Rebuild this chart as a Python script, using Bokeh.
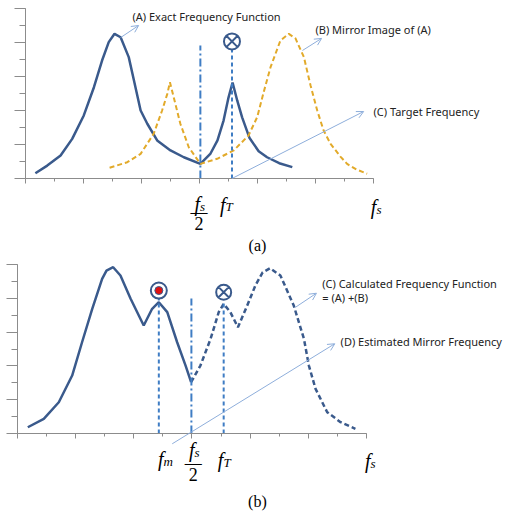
from bokeh.plotting import figure
from bokeh.layouts import column
from bokeh.models import Label, Arrow, OpenHead, LinearAxis, FixedTicker
from bokeh.embed import file_html
from bokeh.resources import INLINE

NAVY = "#3A5A8C"
GOLD = "#E2AA2A"
VBLUE = "#3F7DC4"
ARROWC = "#8EAEDB"
AXISC = "#8C8C8C"
TXT = "#222222"

# axis ticks (no numeric labels in the original)
x_ticks_long = [0, 2, 4, 6, 8, 10, 12]
x_ticks_short = [1, 3, 5, 7, 9, 11]
y_ticks_long = [0, 2, 4, 6, 8, 10]
y_ticks_short = [1, 3, 5, 7, 9]

# ---------------- panel (a) data ----------------
a_exact_x = [0.34, 0.75, 1.21, 1.61, 2.01, 2.36, 2.64, 2.87, 3.07, 3.28, 3.56, 3.74, 3.97, 4.2, 4.54,
             5.0, 5.46, 6.03, 6.38, 6.62, 6.83, 7.0, 7.14, 7.3, 7.47, 7.72, 8.04, 8.33, 8.75, 9.2]
a_exact_y = [0.31, 0.76, 1.35, 2.33, 3.71, 5.37, 6.94, 8.02, 8.51, 8.31, 7.14, 5.76, 4.0, 3.22, 2.24,
             1.65, 1.25, 0.86, 1.47, 2.24, 3.41, 4.76, 5.65, 4.59, 3.6, 2.4, 1.6, 1.25, 0.9, 0.67]
a_mirror_x = [2.9, 3.51, 3.97, 4.42, 4.71, 4.89, 4.98, 5.11, 5.34, 5.63, 6.03, 6.61, 7.18, 7.69, 7.99,
              8.21, 8.45, 8.79, 9.08, 9.31, 9.6, 9.83, 10.06, 10.28, 10.52, 10.86, 11.09, 11.41, 11.78]
a_mirror_y = [0.63, 0.96, 1.45, 2.63, 4.0, 4.98, 5.66, 4.78, 3.22, 1.84, 0.86, 1.16, 1.65, 2.53, 3.61,
              5.06, 6.55, 8.12, 8.51, 8.24, 7.14, 5.47, 4.0, 2.82, 2.04, 1.29, 0.86, 0.53, 0.28]
a_half_fs = 6.03
a_half_top = 7.82
a_fT = 7.12
a_fT_top = 7.59
a_fT_mark_y = 8.06

# ---------------- panel (b) data ----------------
b_solid_x = [0.354, 0.904, 1.42, 1.88, 2.22, 2.57, 2.91, 3.06, 3.29, 3.54, 3.89, 4.34, 4.63, 4.86,
             5.15, 5.49, 5.78, 5.97]
b_solid_y = [0.37, 0.87, 1.85, 3.43, 5.4, 7.38, 9.15, 9.64, 9.84, 9.35, 7.97, 6.39, 7.38, 7.77,
             7.18, 5.4, 4.02, 3.04]
b_dash_x = [5.97, 6.29, 6.64, 6.92, 7.09, 7.32, 7.58, 7.9, 8.18, 8.43, 8.68, 9.04, 9.5, 9.85, 10.02,
            10.25, 10.65, 11.11, 11.62]
b_dash_y = [3.04, 4.02, 5.6, 7.18, 7.67, 7.18, 6.29, 7.57, 8.76, 9.53, 9.78, 9.35, 7.57, 5.6, 4.02,
            2.64, 1.26, 0.67, 0.28]
b_fm = 4.86
b_fm_top = 7.99
b_fm_mark_y = 8.46
b_half_fs = 5.98
b_half_top = 7.99
b_fT = 7.09
b_fT_top = 7.87
b_fT_mark_y = 8.36


def make_fig(height, x_range, y_range):
    p = figure(width=505, height=height, x_range=x_range, y_range=y_range,
               x_axis_type=None, y_axis_type=None,
               output_backend="svg", toolbar_location=None, min_border=0)
    p.outline_line_color = None
    p.background_fill_color = "white"
    p.border_fill_color = "white"
    for ticks, ln in ((x_ticks_long, 5), (x_ticks_short, 3)):
        ax = LinearAxis(ticker=FixedTicker(ticks=[], minor_ticks=ticks), fixed_location=0,
                        bounds=(0, 12), major_tick_out=0, major_tick_in=0,
                        minor_tick_out=ln, minor_tick_in=0,
                        axis_line_color=AXISC, minor_tick_line_color=AXISC,
                        major_tick_line_color=None)
        p.add_layout(ax, "below")
    for ticks, ln in ((y_ticks_long, 11), (y_ticks_short, 6)):
        ax = LinearAxis(ticker=FixedTicker(ticks=[], minor_ticks=ticks), fixed_location=0,
                        bounds=(0, 10), major_tick_out=0, major_tick_in=0,
                        minor_tick_out=ln, minor_tick_in=0,
                        axis_line_color=AXISC, minor_tick_line_color=AXISC,
                        major_tick_line_color=None)
        p.add_layout(ax, "left")
    return p


def lbl(p, x, y, text, size, font="Noto Sans", style="normal", align="left",
        baseline="middle", color=TXT):
    p.add_layout(Label(x=x, y=y, text=text, text_font=font, text_font_size=f"{size}px",
                       text_font_style=style, text_align=align, text_baseline=baseline,
                       text_color=color))


def fsym(p, x, y, sub, dy):
    lbl(p, x, y, "f", 20, font="Liberation Serif", style="italic", align="right",
        baseline="alphabetic", color="black")
    lbl(p, x, y - dy, sub, 13, font="Liberation Serif", style="italic", align="left",
        baseline="alphabetic", color="black")


def frac_bar(p, x, y_bar, y_two):
    lbl(p, x, y_bar, "\u2014", 17, font="Liberation Serif", align="center", color="black")
    lbl(p, x, y_two, "2", 18, font="Liberation Serif", align="center", color="black")


def arrow(p, x0, y0, x1, y1):
    p.add_layout(Arrow(end=OpenHead(size=7, line_color=ARROWC, line_width=1),
                       x_start=x0, y_start=y0, x_end=x1, y_end=y1,
                       line_color=ARROWC, line_width=1))


# ---------------- figure (a) ----------------
pa = make_fig(256, (-25 / 29, 480 / 29), (-78 / 17, 178 / 17))
pa.line(a_exact_x, a_exact_y, line_color=NAVY, line_width=2.5)
pa.line(a_mirror_x, a_mirror_y, line_color=GOLD, line_width=2, line_dash="5 3")
pa.segment(x0=[a_half_fs], y0=[0], x1=[a_half_fs], y1=[a_half_top], line_color=VBLUE,
           line_width=2, line_dash="8 3 2 3")
pa.segment(x0=[a_fT], y0=[0], x1=[a_fT], y1=[a_fT_top], line_color=VBLUE,
           line_width=2, line_dash="4 3")
pa.scatter(x=[a_fT], y=[a_fT_mark_y], marker="circle_x", size=16, line_color=NAVY,
           line_width=2, fill_color="white")

lbl(pa, 3.69, 9.53, "(A) Exact Frequency Function", 11)
lbl(pa, 10.0, 8.76, "(B) Mirror Image of (A)", 11)
lbl(pa, 12.0, 3.94, "(C) Target Frequency", 11)
arrow(pa, 3.28, 8.29, 3.9, 9.0)
arrow(pa, 9.55, 7.53, 10.21, 8.24)
arrow(pa, 7.12, 0, 11.66, 3.94)

fsym(pa, 6.02, -1.5, "s", 0.12)
frac_bar(pa, 5.98, -1.94, -2.64)
fsym(pa, 6.9, -1.53, "T", 0.12)
fsym(pa, 12.1, -1.65, "s", 0.15)
lbl(pa, 8.0, -3.94, "(a)", 16, font="Liberation Serif", align="center", color="black")

# ---------------- figure (b) ----------------
pb = make_fig(257, (-17 / 29.08, 488 / 29.08), (-80 / 16.9, 177 / 16.9))
pb.line(b_solid_x, b_solid_y, line_color=NAVY, line_width=2.5)
pb.line(b_dash_x, b_dash_y, line_color=NAVY, line_width=2.5, line_dash="5 3")
pb.segment(x0=[b_fm], y0=[0], x1=[b_fm], y1=[b_fm_top], line_color=VBLUE,
           line_width=2, line_dash="4 3")
pb.segment(x0=[b_half_fs], y0=[0], x1=[b_half_fs], y1=[b_half_top], line_color=VBLUE,
           line_width=2, line_dash="8 3 2 3")
pb.segment(x0=[b_fT], y0=[0], x1=[b_fT], y1=[b_fT_top], line_color=VBLUE,
           line_width=2, line_dash="4 3")
pb.scatter(x=[b_fT], y=[b_fT_mark_y], marker="circle_x", size=15, line_color=NAVY,
           line_width=2, fill_color="white")
pb.scatter(x=[b_fm], y=[b_fm_mark_y], marker="circle", size=16, line_color=NAVY,
           line_width=2, fill_color="white")
pb.scatter(x=[b_fm], y=[b_fm_mark_y], marker="circle", size=8, line_color=NAVY,
           line_width=1, fill_color="#E01010")

lbl(pb, 10.48, 8.86, "(C) Calculated Frequency Function", 11)
lbl(pb, 10.48, 8.07, "= (A) +(B)", 11)
lbl(pb, 11.11, 5.44, "(D) Estimated Mirror Frequency", 11)
arrow(pb, 9.56, 7.47, 10.28, 8.3)
arrow(pb, 5.32, -0.61, 10.91, 5.31)

fsym(pb, 5.02, -1.48, "m", 0.15)
fsym(pb, 6.09, -1.0, "s", 0.15)
frac_bar(pb, 6.04, -1.74, -2.45)
fsym(pb, 7.08, -1.54, "T", 0.15)
fsym(pb, 12.14, -1.6, "s", 0.15)
lbl(pb, 8.25, -4.02, "(b)", 16, font="Liberation Serif", align="center", color="black")

layout = column(pa, pb, spacing=0)
open("out.html", "w").write(file_html(layout, INLINE))
